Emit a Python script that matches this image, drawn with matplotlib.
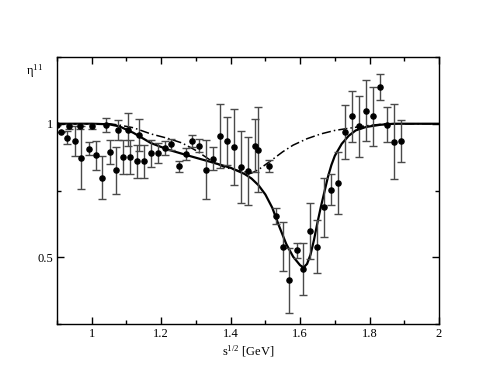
import numpy as np
import matplotlib
matplotlib.use('Agg')
import matplotlib.pyplot as plt
from matplotlib.ticker import MultipleLocator

plt.rcParams['font.family'] = ['Liberation Serif', 'DejaVu Serif']

# data points
x_pts = [0.901, 0.911, 0.930, 0.935, 0.951, 0.965, 0.969, 0.992, 1.000, 1.011,
         1.030, 1.041, 1.052, 1.069, 1.075, 1.090, 1.105, 1.110, 1.130, 1.135,
         1.150, 1.170, 1.191, 1.210, 1.229, 1.250, 1.270, 1.290, 1.310, 1.329,
         1.350, 1.369, 1.390, 1.410, 1.431, 1.449, 1.470, 1.480, 1.510, 1.530,
         1.550, 1.569, 1.590, 1.609, 1.629, 1.650, 1.670, 1.690, 1.710, 1.729,
         1.749, 1.770, 1.790, 1.810, 1.830, 1.850, 1.870, 1.890]
y_pts = [0.994, 0.969, 0.948, 0.990, 0.935, 0.990, 0.873, 0.907, 0.990, 0.882,
         0.798, 0.994, 0.894, 0.825, 0.978, 0.875, 0.978, 0.875, 0.859, 0.958,
         0.859, 0.890, 0.890, 0.910, 0.923, 0.840, 0.888, 0.935, 0.918, 0.828,
         0.869, 0.953, 0.935, 0.913, 0.838, 0.823, 0.918, 0.903, 0.841, 0.653,
         0.540, 0.414, 0.527, 0.456, 0.597, 0.540, 0.687, 0.753, 0.778, 0.969,
         1.028, 0.990, 1.048, 1.028, 1.138, 0.996, 0.933, 0.935]
y_err = [0.000, 0.000, 0.024, 0.010, 0.056, 0.010, 0.117, 0.025, 0.010, 0.055,
         0.080, 0.026, 0.044, 0.089, 0.037, 0.063, 0.063, 0.063, 0.063, 0.059,
         0.063, 0.051, 0.038, 0.027, 0.021, 0.021, 0.023, 0.023, 0.024, 0.110,
         0.044, 0.120, 0.090, 0.144, 0.135, 0.128, 0.100, 0.160, 0.023, 0.030,
         0.092, 0.122, 0.028, 0.097, 0.105, 0.100, 0.111, 0.058, 0.116, 0.100,
         0.096, 0.115, 0.114, 0.110, 0.050, 0.065, 0.140, 0.080]

# solid fit curve
x_solid = [0.90, 1.00, 1.05, 1.08, 1.12, 1.17, 1.22, 1.28, 1.34, 1.40, 1.44,
           1.46, 1.48, 1.50, 1.52, 1.54, 1.56, 1.58, 1.60, 1.61, 1.62, 1.63,
           1.64, 1.65, 1.66, 1.67, 1.68, 1.69, 1.70, 1.72, 1.74, 1.76, 1.79,
           1.83, 1.87, 2.00]
y_solid = [1.000, 1.000, 0.998, 0.990, 0.966, 0.928, 0.903, 0.880, 0.858, 0.835, 0.812,
           0.795, 0.770, 0.735, 0.685, 0.615, 0.550, 0.502, 0.470, 0.462, 0.475, 0.510,
           0.565, 0.630, 0.690, 0.745, 0.800, 0.845, 0.880, 0.925, 0.955, 0.975, 0.988,
           0.996, 1.000, 1.000]

# dash-dot curve
x_dd = [0.90, 1.05, 1.08, 1.12, 1.17, 1.22, 1.26, 1.30, 1.34, 1.38, 1.42, 1.46,
        1.48, 1.51, 1.55, 1.58, 1.62, 1.66, 1.70, 1.75, 1.80, 1.85, 2.00]
y_dd = [1.000, 1.000, 0.995, 0.985, 0.962, 0.945, 0.928, 0.900, 0.865, 0.838, 0.825, 0.815,
        0.828, 0.856, 0.895, 0.920, 0.944, 0.962, 0.975, 0.985, 0.994, 1.000, 1.000]

fig = plt.figure(figsize=(4.94, 3.82), dpi=100)
ax = fig.add_axes([0.1154, 0.1518, 0.7733, 0.699])

ax.plot(x_solid, y_solid, color='black', linewidth=1.6)
ax.plot(x_dd, y_dd, color='black', linewidth=1.1, linestyle=(0, (6, 2, 1, 2)))
ax.errorbar(x_pts, y_pts, yerr=y_err, fmt='o', color='black', markersize=3.7,
            ecolor='#4a4a4a', elinewidth=1.0, capsize=2.8, capthick=1.0)

ax.set_xlim(0.9, 2.0)
ax.set_ylim(0.25, 1.25)
ax.xaxis.set_major_locator(MultipleLocator(0.2))
ax.xaxis.set_minor_locator(MultipleLocator(0.1))
ax.yaxis.set_major_locator(MultipleLocator(0.5))
ax.yaxis.set_minor_locator(MultipleLocator(0.25))
ax.set_xticks([1.0, 1.2, 1.4, 1.6, 1.8, 2.0])
ax.set_xticklabels(['1', '1.2', '1.4', '1.6', '1.8', '2'])
ax.set_yticks([0.5, 1.0])
ax.set_yticklabels(['0.5', '1'])
ax.tick_params(which='both', direction='in', top=True, right=True, labelsize=9, pad=3)
ax.tick_params(which='major', length=5, width=1)
ax.tick_params(which='minor', length=2.8, width=1)
for s in ax.spines.values():
    s.set_linewidth(1.0)

ax.set_xlabel(r'$\mathregular{s^{1/2}}$ [GeV]', fontsize=9, labelpad=2)
fig.text(0.052, 0.805, r'$\mathregular{\eta^{11}}$', fontsize=9)

plt.savefig('out.png', dpi=100)
plt.close()
